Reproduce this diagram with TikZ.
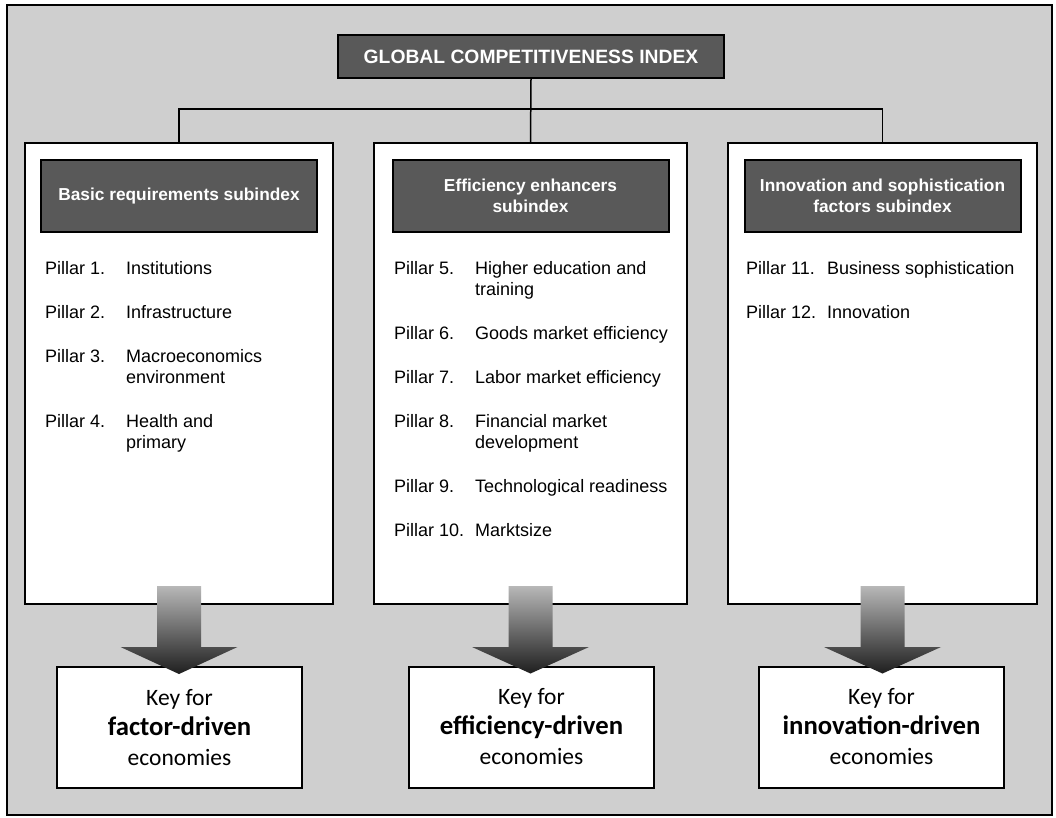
\documentclass[tikz,border=0pt]{standalone}
\usepackage{fontspec}
\usepackage{array}
\setmainfont{Liberation Sans}
\newfontfamily\keyfont{Carlito}
\usetikzlibrary{calc,positioning}

\definecolor{bggray}{HTML}{CFCFCF}
\definecolor{hdrgray}{HTML}{595959}

\newcommand{\rowgap}{\\\noalign{\vskip23pt}}

\begin{document}
\begin{tikzpicture}
  [x=1pt, y=-1pt,
    frame/.style={
      draw=black, line width=2pt,
      fill=bggray
    },
    header/.style={
      draw=black, line width=2pt,
      fill=hdrgray, text=white,
      align=center, inner sep=0pt,
      font=\bfseries\fontsize{17.3}{21}\selectfont
    },
    panel/.style={
      draw=black, line width=2pt,
      fill=white, anchor=north,
      minimum height=461
    },
    pillars/.style={
      inner sep=0pt, anchor=base west,
      font=\fontsize{18}{21}\selectfont
    },
    keybox/.style={
      draw=black, line width=2pt,
      fill=white, align=center,
      minimum width=245, minimum height=121,
      font=\keyfont\fontsize{23.5}{30}\selectfont
    },
    arrowfill/.style={
      top color=black!28, middle color=black!72,
      bottom color=black!88
    }
  ]
  \useasboundingbox (0,0) rectangle (1056,818);
  \draw[frame] (7,5) rectangle (1052,815);

  % index and subindex panels
  \node[header, minimum width=386, minimum height=43,
    font=\bfseries\fontsize{19.3}{22}\selectfont] (gci) at (531,56.5)
    {GLOBAL COMPETITIVENESS INDEX};
  \node[panel, minimum width=308] (lp) at (179,142) {};
  \node[panel, minimum width=313] (mp) at (530.5,142) {};
  \node[panel, minimum width=309] (rp) at (882.5,142) {};

  \draw[line width=1.5pt] (gci.south) -- (mp.north);
  \draw[line width=1.5pt] (lp.north) -- ++(0,-33) -| (rp.north);

  \node[header, minimum width=276, minimum height=72,
    below=17pt of lp.north] (lh) {Basic requirements subindex};
  \node[header, minimum width=276, minimum height=72,
    below=17pt of mp.north] (mh) {Efficiency enhancers\\subindex};
  \node[header, minimum width=276, minimum height=72,
    below=17pt of rp.north] (rh) {Innovation and sophistication\\factors subindex};

  % pillars
  \node[pillars] (lpl) at (45,274) {%
    \begin{tabular}[t]{@{}p{81pt}@{}p{200pt}@{}}
      Pillar 1. & Institutions\rowgap
      Pillar 2. & Infrastructure\rowgap
      Pillar 3. & Macroeconomics\newline environment\rowgap
      Pillar 4. & Health and\newline primary
    \end{tabular}};
  \node[pillars] (mpl) at (394,274) {%
    \begin{tabular}[t]{@{}p{81pt}@{}p{200pt}@{}}
      Pillar 5. & Higher education and\newline training\rowgap
      Pillar 6. & Goods market efficiency\rowgap
      Pillar 7. & Labor market efficiency\rowgap
      Pillar 8. & Financial market\newline development\rowgap
      Pillar 9. & Technological readiness\rowgap
      Pillar 10. & Marktsize
    \end{tabular}};
  \node[pillars] (rpl) at (746,274) {%
    \begin{tabular}[t]{@{}p{81pt}@{}p{200pt}@{}}
      Pillar 11. & Business sophistication\rowgap
      Pillar 12. & Innovation
    \end{tabular}};

  % economies
  \node[keybox] (lk) at (179.5,727.5)
    {Key for\\{\bfseries\fontsize{26.7}{30}\selectfont factor-driven}\\economies};
  \node[keybox] (mk) at (531.5,727)
    {Key for\\{\bfseries\fontsize{26.7}{30}\selectfont efficiency-driven}\\economies};
  \node[keybox] (rk) at (881.5,727)
    {Key for\\{\bfseries\fontsize{26.7}{30}\selectfont innovation-driven}\\economies};

  \foreach \p/\k in {lp/lk, mp/mk, rp/rk}
    \shade[arrowfill] ($(\p.south)+(-22,-19)$) -- ($(\p.south)+(22,-19)$)
      -- ($(\p.south)+(22,42)$) -- ($(\p.south)+(58.5,42)$)
      -- ($(\p.south |- \k.north)+(0,8)$)
      -- ($(\p.south)+(-58.5,42)$) -- ($(\p.south)+(-22,42)$) -- cycle;
\end{tikzpicture}
\end{document}
